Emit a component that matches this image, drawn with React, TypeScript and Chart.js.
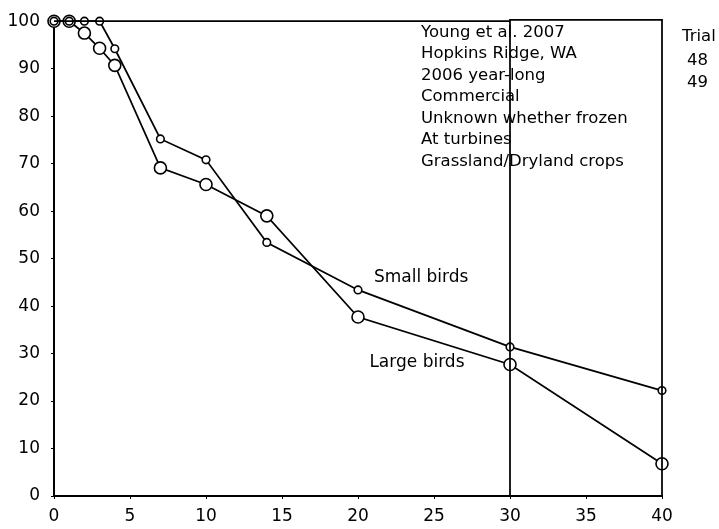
import { useEffect, useRef } from "react";
import { Chart, registerables } from "chart.js";

Chart.register(...registerables);

const xValues = [0, 1, 2, 3, 4, 7, 10, 14, 20, 30, 40];
const smallBirds = [100, 100, 100, 100, 94.2, 75.2, 70.8, 53.4, 43.4, 31.4, 22.2];
const largeBirds = [100, 100, 97.5, 94.3, 90.7, 69.1, 65.6, 59.0, 37.7, 27.7, 6.8];

const topLineX = [0, 30];
const topLineY = [100, 100];
const boxX = [30, 30, 40, 40];
const boxY = [0, 100.3, 100.3, 0];

const seriesLabels = ["Small birds", "Large birds"];
const seriesLabelX = [21.05, 20.75];
const seriesLabelY = [45.15, 27.15];

const noteLines = [
  "Young et al. 2007",
  "Hopkins Ridge, WA",
  "2006 year-long",
  "Commercial",
  "Unknown whether frozen",
  "At turbines",
  "Grassland/Dryland crops",
];
const trialLines = ["Trial", "48", "49"];

const FONT = "'DejaVu Sans', sans-serif";

const textPlugin = {
  id: "texts",
  afterDatasetsDraw(chart: any) {
    const ctx = chart.ctx;
    const xs = chart.scales.x;
    const ys = chart.scales.y;
    ctx.save();
    ctx.fillStyle = "#000";
    ctx.textBaseline = "alphabetic";
    ctx.textAlign = "left";
    ctx.font = `17px ${FONT}`;
    seriesLabels.forEach((t, i) => {
      ctx.fillText(t, xs.getPixelForValue(seriesLabelX[i]), ys.getPixelForValue(seriesLabelY[i]));
    });
    ctx.font = `16.5px ${FONT}`;
    noteLines.forEach((t, i) => {
      ctx.fillText(t, 421, 36.7 + i * 21.5);
    });
    ctx.fillText(trialLines[0], 682, 40.7);
    ctx.fillText(trialLines[1], 687, 65);
    ctx.fillText(trialLines[2], 687, 87.3);
    ctx.restore();
  },
};

export default function App() {
  const ref = useRef<HTMLCanvasElement | null>(null);
  useEffect(() => {
    document.body.style.margin = "0";
    const canvas = ref.current!;
    const pts = (xs: number[], ys: number[]) => xs.map((x, i) => ({ x, y: ys[i] }));
    const chart = new Chart(canvas, {
      type: "scatter",
      data: {
        datasets: [
          {
            label: "top",
            data: pts(topLineX, topLineY),
            showLine: true,
            borderColor: "#000",
            borderWidth: 1.75,
            pointRadius: 0,
            clip: false as any,
            order: 0,
          },
          {
            label: "box",
            data: pts(boxX, boxY),
            showLine: true,
            borderColor: "#000",
            borderWidth: 1.75,
            pointRadius: 0,
            clip: false as any,
            order: 0,
          },
          {
            label: "Small birds",
            data: pts(xValues, smallBirds),
            showLine: true,
            borderColor: "#000",
            borderWidth: 1.75,
            pointRadius: 3.8,
            pointBorderWidth: 1.6,
            pointBackgroundColor: "#fff",
            pointBorderColor: "#000",
            clip: false as any,
            order: 1,
          },
          {
            label: "Large birds",
            data: pts(xValues, largeBirds),
            showLine: true,
            borderColor: "#000",
            borderWidth: 1.75,
            pointRadius: 6,
            pointBorderWidth: 1.6,
            pointBackgroundColor: "#fff",
            pointBorderColor: "#000",
            clip: false as any,
            order: 2,
          },
        ],
      },
      options: {
        animation: false,
        responsive: false,
        layout: { padding: { top: 16, right: 57, left: 0, bottom: 0 } },
        plugins: { legend: { display: false }, tooltip: { enabled: false } },
        scales: {
          x: {
            type: "linear",
            min: 0,
            max: 40,
            afterFit: (s: any) => {
              s.height = 33;
            },
            ticks: {
              stepSize: 5,
              autoSkip: false,
              maxRotation: 0,
              color: "#000",
              padding: 7,
              font: { family: FONT, size: 17 },
            },
            grid: {
              drawOnChartArea: false,
              drawTicks: true,
              tickLength: 3,
              tickColor: "#000",
              color: "#000",
            },
            border: { display: true, color: "#000", width: 2 },
          },
          y: {
            type: "linear",
            min: 0,
            max: 100,
            afterFit: (s: any) => {
              s.width = 54;
            },
            ticks: {
              stepSize: 10,
              autoSkip: false,
              color: "#000",
              padding: 11,
              font: { family: FONT, size: 17 },
            },
            grid: {
              drawOnChartArea: false,
              drawTicks: true,
              tickLength: 3,
              tickColor: "#000",
              color: "#000",
            },
            border: { display: true, color: "#000", width: 2 },
          },
        },
      },
      plugins: [textPlugin],
    });
    return () => chart.destroy();
  }, []);
  return (
    <div style={{ width: 719, height: 529 }}>
      <canvas ref={ref} width={719} height={529} />
    </div>
  );
}
